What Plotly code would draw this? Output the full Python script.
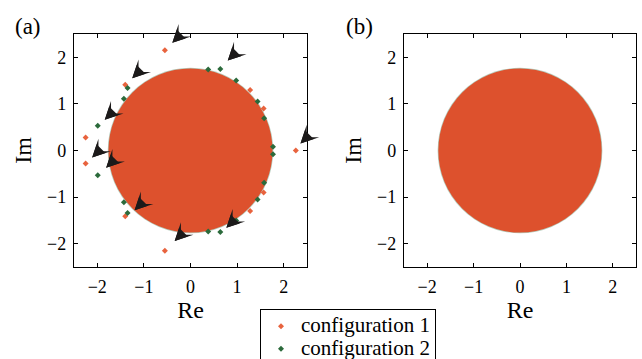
import plotly.graph_objects as go

# Outlying eigenvalues, configuration 1 (panel a)
cfg1_re = [-0.55, -0.55, -1.40, -1.40, -2.25, -2.25, 2.26, 1.28, 1.28, 1.57, 1.57]
cfg1_im = [2.15, -2.15, 1.41, -1.41, 0.28, -0.28, 0.00, 1.30, -1.30, 0.90, -0.90]

# Outlying eigenvalues, configuration 2 (panel a)
cfg2_re = [-1.99, -1.99, -1.35, -1.35, -1.43, -1.43, 0.64, 0.64, 0.38, 0.38,
           0.98, 0.98, 1.44, 1.44, 1.77, 1.77, 1.58, 1.58]
cfg2_im = [0.53, -0.53, 1.34, -1.34, 1.11, -1.11, 1.75, -1.75, 1.74, -1.74,
           1.50, -1.50, 1.05, -1.05, 0.08, -0.08, 0.69, -0.69]

# Radius of the bulk of the spectrum (circular law)
bulk_radius_cfg1 = 1.76
bulk_radius_cfg2 = 1.775

# Arrow tips marking the isolated eigenvalues in panel (a)
arrow_re = [-0.39, 0.80, -1.25, -1.84, -2.11, -1.81, -1.20, -0.34, 0.77, 2.36]
arrow_im = [2.31, 1.93, 1.55, 0.66, -0.15, -0.37, -1.28, -1.94, -1.66, 0.15]

tick_vals = [-2, -1, 0, 1, 2]
axis_range = [-2.5, 2.5]

ORANGE_BULK = "#DD512D"
ORANGE = "#E8633E"
GREEN = "#2B6A3B"
ARROW = "#1c1a1a"
FONT = "Liberation Serif, Times New Roman, Times, serif"

W, H = 642, 359
ya_dom = [1 - 267 / H, 1 - 34 / H]
xa_dom = [74 / W, 307 / W]
xb_dom = [404 / W, 636 / W]


def legend_label(text):
    return "<span style='font-size:21px'>" + text + "</span>"


fig = go.Figure()

fig.add_trace(go.Scatter(
    x=cfg1_re, y=cfg1_im, mode="markers", name=legend_label("configuration 1"),
    marker=dict(symbol="diamond", size=4.6, color=ORANGE),
    xaxis="x", yaxis="y", cliponaxis=False))
fig.add_trace(go.Scatter(
    x=cfg2_re, y=cfg2_im, mode="markers", name=legend_label("configuration 2"),
    marker=dict(symbol="diamond", size=4.6, color=GREEN),
    xaxis="x", yaxis="y", cliponaxis=False))

# Bulk discs for both panels: configuration 2 underneath, configuration 1 on top
for xr, yr in (("x", "y"), ("x2", "y2")):
    fig.add_shape(type="circle", xref=xr, yref=yr, layer="below",
                  x0=-bulk_radius_cfg2, x1=bulk_radius_cfg2,
                  y0=-bulk_radius_cfg2, y1=bulk_radius_cfg2,
                  fillcolor=GREEN, opacity=0.35, line=dict(width=0))
    fig.add_shape(type="circle", xref=xr, yref=yr, layer="below",
                  x0=-bulk_radius_cfg1, x1=bulk_radius_cfg1,
                  y0=-bulk_radius_cfg1, y1=bulk_radius_cfg1,
                  fillcolor=ORANGE_BULK, line=dict(width=0))

# Arrowheads: a barbed head with a filled triangle inside it so the notch
# stays shallow; the short shaft is hidden under the head.
for xr, yr in zip(arrow_re, arrow_im):
    for head, size in ((3, 2.95), (2, 2.5)):
        fig.add_annotation(x=xr, y=yr, xref="x", yref="y", text="",
                           font=dict(size=1), borderpad=0, borderwidth=0,
                           showarrow=True, arrowhead=head, arrowsize=size,
                           arrowwidth=1, arrowcolor=ARROW, ax=3.9, ay=-3.9)

axis_style = dict(
    range=axis_range, tickvals=tick_vals, ticks="inside", ticklen=4,
    tickwidth=1, tickcolor="black", showline=True, linecolor="black",
    linewidth=1.3, mirror="ticks", showgrid=False, zeroline=False,
    tickfont=dict(family=FONT, size=18, color="black"),
    ticklabelstandoff=3, fixedrange=True,
)

title_font = dict(family=FONT, size=24, color="black")

fig.update_layout(
    width=W, height=H,
    margin=dict(l=0, r=0, t=0, b=0, autoexpand=False),
    paper_bgcolor="white", plot_bgcolor="white",
    font=dict(family=FONT, color="black"),
    xaxis=dict(domain=xa_dom, anchor="y",
               title=dict(text="Re", font=title_font, standoff=2), **axis_style),
    yaxis=dict(domain=ya_dom, anchor="x",
               title=dict(text="Im", font=title_font, standoff=8), **axis_style),
    xaxis2=dict(domain=xb_dom, anchor="y2",
                title=dict(text="Re", font=title_font, standoff=2), **axis_style),
    yaxis2=dict(domain=ya_dom, anchor="x2",
                title=dict(text="Im", font=title_font, standoff=8), **axis_style),
    legend=dict(x=260 / W, y=1 - 309 / H, xanchor="left", yanchor="top",
                bordercolor="black", borderwidth=1, bgcolor="white",
                font=dict(family=FONT, size=15, color="black"),
                tracegroupgap=0),
    showlegend=True,
)

fig.add_annotation(x=28 / W, y=1 - 27 / H, xref="paper", yref="paper",
                   xanchor="center", yanchor="middle",
                   text="(a)", showarrow=False, font=dict(family=FONT, size=23))
fig.add_annotation(x=359 / W, y=1 - 27 / H, xref="paper", yref="paper",
                   xanchor="center", yanchor="middle",
                   text="(b)", showarrow=False, font=dict(family=FONT, size=23))

fig.write_html("out.html")
